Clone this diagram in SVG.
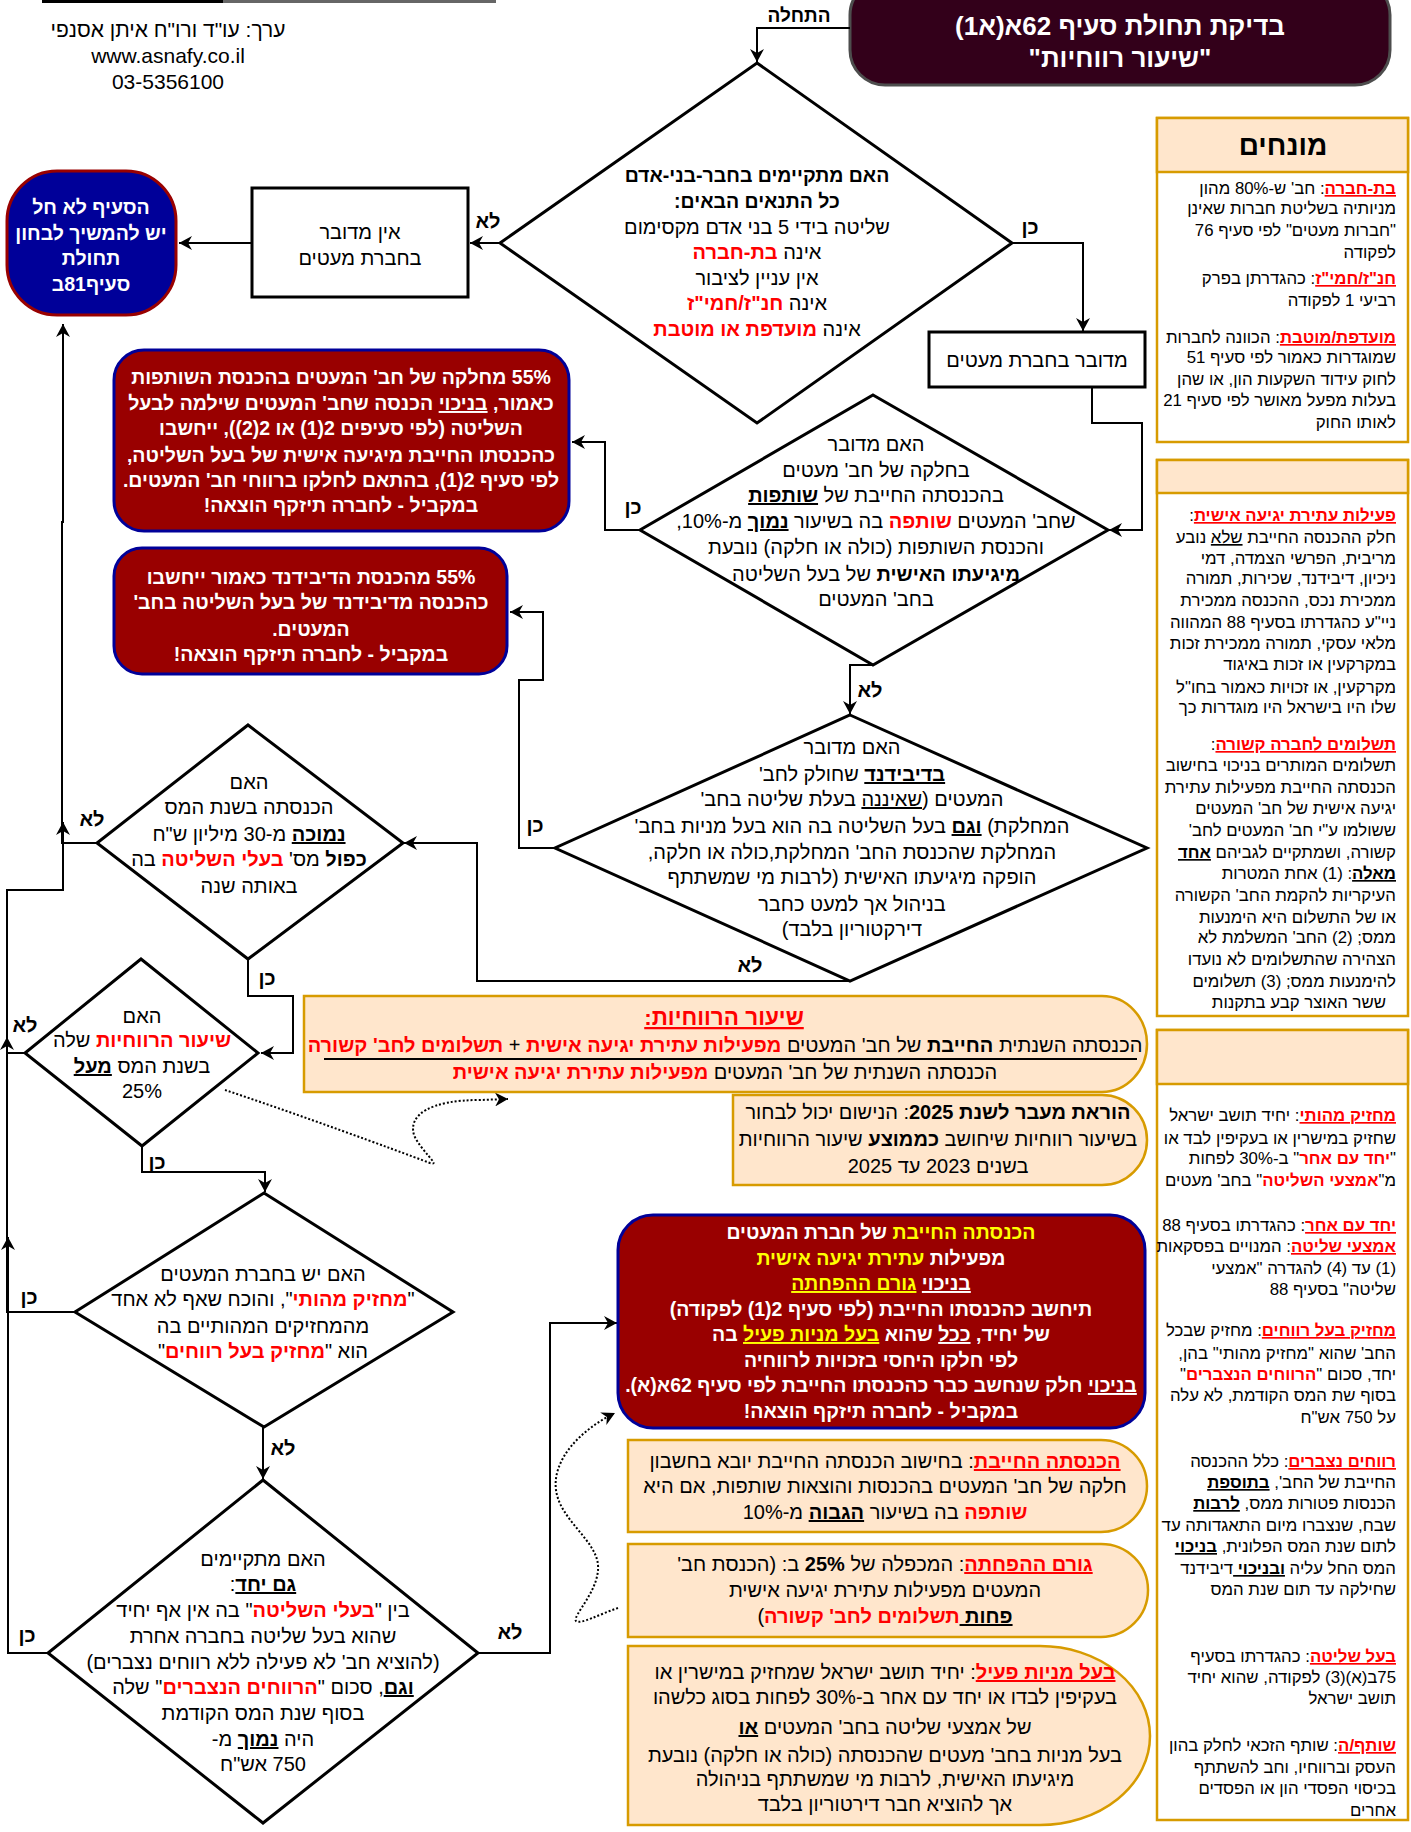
<svg xmlns="http://www.w3.org/2000/svg" width="1411" height="1832" viewBox="0 0 1411 1832">
<style>
text{font-family:"Liberation Sans",Arial,"DejaVu Sans",sans-serif;font-size:20px;direction:rtl;text-anchor:middle;fill:#000}
.b{font-weight:bold}
.r{fill:#FF0000;font-weight:bold}
.u{text-decoration:underline}
.w{fill:#FFFFFF;font-weight:bold;font-size:19.5px}
.y{fill:#FFFF00}
.s{font-size:16.8px;text-anchor:start}
.lbl{font-weight:bold}
.dia{fill:#FFFFFF;stroke:#000;stroke-width:3}
.box{fill:#FFFFFF;stroke:#000;stroke-width:3}
.red{fill:#990000;stroke:#000099;stroke-width:3}
.org{fill:#FFE6CC;stroke:#D79B00;stroke-width:2.5}
.orgw{fill:#FFFFFF;stroke:#D79B00;stroke-width:2.5}
.e{fill:none;stroke:#000;stroke-width:2;marker-end:url(#a)}
.d{fill:none;stroke:#000;stroke-width:2;stroke-dasharray:2 2;marker-end:url(#a)}
</style>
<defs>
<marker id="a" viewBox="0 0 13 14" refX="13" refY="7" markerWidth="13" markerHeight="14" markerUnits="userSpaceOnUse" orient="auto"><path d="M0,0 L13,7 L0,14 L4,7 Z" fill="#000"/></marker>
</defs>

<g id="topline">
<rect x="42" y="0" width="181" height="3" fill="#000"/>
<rect x="223" y="0" width="273" height="3" fill="#666"/>
</g>
<g id="credit">
<text x="168" y="37" style="font-size:21px">ערך: עו"ד ורו"ח איתן אסנפי</text>
<text x="168" y="63" style="font-size:21px">www.asnafy.co.il</text>
<text x="168" y="89" style="font-size:21px">03-5356100</text>
</g>

<g id="title">
<rect x="850" y="-20" width="540" height="105" rx="35" fill="#33001A" stroke="#4D4D4D" stroke-width="3"/>
<text x="1120" y="35" class="w" style="font-size:26px">בדיקת תחולת סעיף 62א(א1)</text>
<text x="1120" y="67" class="w" style="font-size:26px">"שיעור רווחיות"</text>
</g>

<g id="connectors">
<path class="e" d="M850,28 H757 V62"/>
<path class="e" d="M500,243 H470"/>
<path class="e" d="M252,243 H179"/>
<path class="e" d="M1012,243 H1083 V331"/>
<path class="e" d="M1092,387 V423 H1142 V530 H1109"/>
<path class="e" d="M640,530 H605 V442 H572"/>
<path class="e" d="M873,665 H850 V714"/>
<path class="e" d="M555,848 H519 V680 H543 V612 H510"/>
<path class="e" d="M850,981 H477 V843 H404"/>
<path class="e" d="M97,843 H62 V522 H63 V324"/>
<path class="e" d="M25,1053 H7 V890 H63 V822"/>
<path class="e" d="M75,1312 H7 V1037"/>
<path class="e" d="M48,1653 H8 V1237"/>
<path class="e" d="M248,959 V996 H293 V1053 H261"/>
<path class="e" d="M142,1146 V1172 H265 V1192"/>
<path class="e" d="M263,1427 V1479"/>
<path class="e" d="M478,1653 H550 V1323 H617"/>
<path class="d" d="M225,1090 C300,1115 390,1148 430,1163 C442,1167 420,1150 414,1135 C408,1115 430,1100 480,1100 L508,1099"/>
<path class="d" d="M618,1608 C600,1614 580,1625 576,1621 C572,1616 600,1590 598,1565 C596,1540 560,1520 556,1490 C552,1460 580,1430 615,1413"/>
<text x="799" y="22" class="lbl" style="font-size:19px">התחלה</text>
<text x="488" y="228" class="lbl">לא</text>
<text x="1030" y="234" class="lbl">כן</text>
<text x="633" y="514" class="lbl">כן</text>
<text x="870" y="697" class="lbl">לא</text>
<text x="535" y="832" class="lbl">כן</text>
<text x="750" y="972" class="lbl">לא</text>
<text x="92" y="826" class="lbl">לא</text>
<text x="267" y="985" class="lbl">כן</text>
<text x="25" y="1032" class="lbl">לא</text>
<text x="157" y="1169" class="lbl">כן</text>
<text x="29" y="1304" class="lbl">כן</text>
<text x="283" y="1455" class="lbl">לא</text>
<text x="27" y="1642" class="lbl">כן</text>
<text x="510" y="1639" class="lbl">לא</text>
</g>

<g id="end-terminal">
<rect x="7" y="171" width="169" height="144" rx="50" fill="#000099" stroke="#990000" stroke-width="3"/>
<text x="91" y="214" class="w">הסעיף לא חל</text>
<text x="91" y="240" class="w">יש להמשיך לבחון</text>
<text x="91" y="265" class="w">תחולת</text>
<text x="91" y="291" class="w">סעיף81ב</text>
</g>

<g id="not-closely-held">
<rect class="box" x="252" y="188" width="216" height="109"/>
<text x="360" y="239">אין מדובר</text>
<text x="360" y="265">בחברת מעטים</text>
</g>

<g id="d1">
<polygon class="dia" points="757,63 1012,243 757,423 500,243"/>
<text x="757" y="182" class="b" style="font-size:19.5px">האם מתקיימים בחבר-בני-אדם</text>
<text x="757" y="208" class="b" style="font-size:19.5px">כל התנאים הבאים:</text>
<text x="757" y="234">שליטה בידי 5 בני אדם מקסימום</text>
<text x="757" y="259">אינה <tspan class="r">בת-חברה</tspan></text>
<text x="757" y="285">אין עניין לציבור</text>
<text x="757" y="310">אינה <tspan class="r">חנ"ז/חמי"ז</tspan></text>
<text x="757" y="336">אינה <tspan class="r">מועדפת או מוטבת</tspan></text>
</g>

<g id="closely-held">
<rect class="box" x="929" y="332" width="216" height="55"/>
<text x="1037" y="367">מדובר בחברת מעטים</text>
</g>

<g id="d2">
<polygon class="dia" points="873,395 1108,530 873,665 640,530"/>
<text x="876" y="451">האם מדובר</text>
<text x="876" y="477">בחלקה של חב' מעטים</text>
<text x="876" y="502">בהכנסתה החייבת של <tspan class="b u">שותפות</tspan></text>
<text x="876" y="528">שחב' המעטים <tspan class="r">שותפה</tspan> בה בשיעור <tspan class="b u">נמוך</tspan> מ-10%,</text>
<text x="876" y="554">והכנסת השותפות (כולה או חלקה) נובעת</text>
<text x="876" y="581"><tspan class="b">מיגיעתו האישית</tspan> של בעל השליטה</text>
<text x="876" y="606">בחב' המעטים</text>
</g>

<g id="res-partnership">
<rect class="red" x="114" y="350" width="455" height="181" rx="30"/>
<text x="341" y="384" class="w">55% מחלקה של חב' המעטים בהכנסת השותפות</text>
<text x="341" y="410" class="w">כאמור, <tspan class="u">בניכוי</tspan> הכנסה שחב' המעטים שילמה לבעל</text>
<text x="341" y="435" class="w">השליטה (לפי סעיפים 2(1) או 2(2)), ייחשבו</text>
<text x="341" y="462" class="w">כהכנסתו החייבת מיגיעה אישית של בעל השליטה,</text>
<text x="341" y="487" class="w">לפי סעיף 2(1), בהתאם לחלקו ברווחי חב' המעטים.</text>
<text x="341" y="512" class="w">במקביל - לחברה תיזקף הוצאה!</text>
</g>

<g id="res-dividend">
<rect class="red" x="114" y="548" width="393" height="126" rx="28"/>
<text x="311" y="584" class="w">55% מהכנסת הדיבידנד כאמור ייחשבו</text>
<text x="311" y="609" class="w">כהכנסה מדיבידנד של בעל השליטה בחב'</text>
<text x="311" y="636" class="w">המעטים.</text>
<text x="311" y="661" class="w">במקביל - לחברה תיזקף הוצאה!</text>
</g>

<g id="d3">
<polygon class="dia" points="850,715 1147,848 850,981 555,848"/>
<text x="852" y="754">האם מדובר</text>
<text x="852" y="781"><tspan class="b u">בדיבידנד</tspan> שחולק לחב'</text>
<text x="852" y="806">המעטים (<tspan class="u">שאיננה</tspan> בעלת שליטה בחב'</text>
<text x="852" y="833">המחלקת) <tspan class="b u">וגם</tspan> בעל השליטה בה הוא בעל מניות בחב'</text>
<text x="852" y="859">המחלקת שהכנסת החב' המחלקת,כולה או חלקה,</text>
<text x="852" y="884">הופקה מיגיעתו האישית (לרבות מי שמשתתף</text>
<text x="852" y="911">בניהול אך למעט כחבר</text>
<text x="852" y="936">דירקטוריון בלבד)</text>
</g>

<g id="d4">
<polygon class="dia" points="248,725 403,843 248,959 97,843"/>
<text x="249" y="789">האם</text>
<text x="249" y="814">הכנסתה בשנת המס</text>
<text x="249" y="841"><tspan class="b u">נמוכה</tspan> מ-30 מיליון ש"ח</text>
<text x="249" y="866"><tspan class="b">כפול</tspan> מס' <tspan class="r">בעלי השליטה</tspan> בה</text>
<text x="249" y="893">באותה שנה</text>
</g>

<g id="d5">
<polygon class="dia" points="141,959 258,1053 142,1146 25,1053"/>
<text x="142" y="1023">האם</text>
<text x="142" y="1047"><tspan class="r">שיעור הרווחיות</tspan> שלה</text>
<text x="142" y="1073">בשנת המס <tspan class="b u">מעל</tspan></text>
<text x="142" y="1098">25%</text>
</g>

<g id="formula">
<path class="org" d="M304,996 H1102 A45,48 0 0 1 1147,1044 A45,48 0 0 1 1102,1092 H304 Z"/>
<text x="724" y="1025" class="r u" style="font-size:22.5px">שיעור הרווחיות:</text>
<text x="725" y="1052">הכנסתה השנתית <tspan class="b">החייבת</tspan> של חב' המעטים <tspan class="r">מפעילות עתירת יגיעה אישית</tspan> + <tspan class="r">תשלומים לחב' קשורה</tspan></text>
<line x1="324" y1="1059" x2="1137" y2="1059" stroke="#000" stroke-width="2"/>
<text x="725" y="1079">הכנסתה השנתית של חב' המעטים <tspan class="r">מפעילות עתירת יגיעה אישית</tspan></text>
</g>

<g id="transition">
<path class="org" d="M733,1095 H1102 A45,45 0 0 1 1147,1140 A45,45 0 0 1 1102,1185 H733 Z"/>
<text x="938" y="1119"><tspan class="b">הוראת מעבר לשנת 2025</tspan>: הנישום יכול לבחור</text>
<text x="938" y="1146">בשיעור רווחיות שיחושב <tspan class="b">כממוצע</tspan> שיעור הרווחיות</text>
<text x="938" y="1173">בשנים 2023 עד 2025</text>
</g>

<g id="d6">
<polygon class="dia" points="264,1193 453,1312 264,1427 75,1312"/>
<text x="263" y="1281">האם יש בחברת המעטים</text>
<text x="263" y="1306">"<tspan class="r">מחזיק מהותי</tspan>", והוכח שאף לא אחד</text>
<text x="263" y="1333">מהמחזיקים המהותיים בה</text>
<text x="263" y="1358">הוא "<tspan class="r">מחזיק בעל רווחים</tspan>"</text>
</g>

<g id="d7">
<polygon class="dia" points="263,1480 478,1653 263,1823 48,1653"/>
<text x="263" y="1566">האם מתקיימים</text>
<text x="263" y="1591"><tspan class="b u">גם יחד</tspan>:</text>
<text x="263" y="1617">בין "<tspan class="r">בעלי השליטה</tspan>" בה אין אף יחיד</text>
<text x="263" y="1643">שהוא בעל שליטה בחברה אחרת</text>
<text x="263" y="1669">(להוציא חב' לא פעילה ללא רווחים נצברים)</text>
<text x="263" y="1694"><tspan class="b u">וגם</tspan>, סכום "<tspan class="r">הרווחים הנצברים</tspan>" שלה</text>
<text x="263" y="1720">בסוף שנת המס הקודמת</text>
<text x="263" y="1746">היה <tspan class="b u">נמוך</tspan> מ-</text>
<text x="263" y="1771">750 אש"ח</text>
</g>

<g id="res-active">
<rect class="red" x="618" y="1215" width="527" height="213" rx="35"/>
<text x="881" y="1239" class="w"><tspan class="y">הכנסתה החייבת</tspan> של חברת המעטים</text>
<text x="881" y="1265" class="w">מפעילות <tspan class="y">עתירת יגיעה אישית</tspan></text>
<text x="881" y="1290" class="w"><tspan class="u">בניכוי</tspan> <tspan class="y u">גורם ההפחתה</tspan></text>
<text x="881" y="1316" class="w">תיחשב כהכנסתו החייבת (לפי סעיף 2(1) לפקודה)</text>
<text x="881" y="1341" class="w">של יחיד, <tspan class="u">ככל</tspan> שהוא <tspan class="y u">בעל מניות פעיל</tspan> בה</text>
<text x="881" y="1367" class="w">לפי חלקו היחסי בזכויות לרווחיה</text>
<text x="881" y="1392" class="w"><tspan class="u">בניכוי</tspan> חלק שנחשב כבר כהכנסתו החייבת לפי סעיף 62א(א).</text>
<text x="881" y="1418" class="w">במקביל - לחברה תיזקף הוצאה!</text>
</g>

<g id="def-taxable">
<path class="org" d="M628,1440 H1101 A46,46 0 0 1 1147,1486 A46,46 0 0 1 1101,1532 H628 Z"/>
<text x="885" y="1468"><tspan class="r u">הכנסתה החייבת</tspan>: בחישוב הכנסתה החייבת יובא בחשבון</text>
<text x="885" y="1493">חלקה של חב' המעטים בהכנסות והוצאות שותפות, אם היא</text>
<text x="885" y="1519"><tspan class="r">שותפה</tspan> בה בשיעור <tspan class="b u">הגבוה</tspan> מ-10%</text>
</g>

<g id="def-reduction">
<path class="org" d="M628,1544 H1101 A47,46 0 0 1 1148,1590 A47,47 0 0 1 1101,1637 H628 Z"/>
<text x="885" y="1571"><tspan class="r u">גורם ההפחתה</tspan>: המכפלה של <tspan class="b">25%</tspan> ב: (הכנסת חב'</text>
<text x="885" y="1597">המעטים מפעילות עתירת יגיעה אישית</text>
<text x="885" y="1623"><tspan class="b u">פחות </tspan><tspan class="r">תשלומים לחב' קשורה</tspan>)</text>
</g>

<g id="def-active">
<path class="org" d="M628,1646 H1040 A110,90 0 0 1 1150,1736 A110,89 0 0 1 1040,1825 H628 Z"/>
<text x="885" y="1679"><tspan class="r u">בעל מניות פעיל</tspan>: יחיד תושב ישראל שמחזיק במישרין או</text>
<text x="885" y="1704">בעקיפין לבדו או יחד עם אחר ב-30% לפחות בסוג כלשהו</text>
<text x="885" y="1734">של אמצעי שליטה בחב' המעטים <tspan class="b u">או</tspan></text>
<text x="885" y="1762">בעל מניות בחב' מעטים שהכנסתה (כולה או חלקה) נובעת</text>
<text x="885" y="1786">מיגיעתו האישית, לרבות מי שמשתתף בניהולה</text>
<text x="885" y="1811">אך להוציא חבר דירטוריון בלבד</text>
</g>

<g id="terms1">
<rect class="orgw" x="1157" y="118" width="251" height="324"/>
<rect class="org" x="1157" y="118" width="251" height="54"/>
<text x="1283" y="155" class="b" style="font-size:28px">מונחים</text>
<text x="1396" y="194" class="s"><tspan class="r u">בת-חברה</tspan>: חב'  ש-80% מהון</text>
<text x="1396" y="214" class="s">מניותיה בשליטת חברות שאינן</text>
<text x="1396" y="236" class="s">"חברות מעטים" לפי סעיף 76</text>
<text x="1396" y="258" class="s">לפקודה</text>
<text x="1396" y="284" class="s"><tspan class="r u">חנ"ז/חמי"ז</tspan>: כהגדרתן בפרק</text>
<text x="1396" y="306" class="s">רביעי 1 לפקודה</text>
<text x="1396" y="343" class="s"><tspan class="r u">מועדפת/מוטבת</tspan>: הכוונה לחברות</text>
<text x="1396" y="363" class="s">שמוגדרות כאמור לפי סעיף 51</text>
<text x="1396" y="385" class="s">לחוק עידוד השקעות הון, או שהן</text>
<text x="1396" y="406" class="s">בעלות מפעל מאושר לפי סעיף 21</text>
<text x="1396" y="428" class="s">לאותו החוק</text>
</g>

<g id="terms2">
<rect class="orgw" x="1157" y="460" width="251" height="556"/>
<rect class="org" x="1157" y="460" width="251" height="33"/>
<text x="1396" y="521" class="s"><tspan class="r u">פעילות עתירת יגיעה אישית</tspan>:</text>
<text x="1396" y="543" class="s">חלק ההכנסה החייבת <tspan class="u">שלא</tspan> נובע</text>
<text x="1396" y="564" class="s">מריבית, הפרשי הצמדה, דמי</text>
<text x="1396" y="584" class="s">ניכיון, דיבידנד, שכירות, תמורה</text>
<text x="1396" y="606" class="s">ממכירת נכס, ההכנסה ממכירת</text>
<text x="1396" y="628" class="s">ניי"ע כהגדרתו בסעיף 88 המהווה</text>
<text x="1396" y="649" class="s">מלאי עסקי, תמורה ממכירת זכות</text>
<text x="1396" y="670" class="s">במקרקעין או זכות באיגוד</text>
<text x="1396" y="693" class="s">מקרקעין, או זכויות כאמור בחו"ל</text>
<text x="1396" y="713" class="s">שלו היו בישראל היו מוגדרות כך</text>
<text x="1396" y="750" class="s"><tspan class="r u">תשלומים לחברה קשורה</tspan>:</text>
<text x="1396" y="771" class="s">תשלומים המותרים בניכוי בחישוב</text>
<text x="1396" y="793" class="s">הכנסתה החייבת מפעילות עתירת</text>
<text x="1396" y="814" class="s">יגיעה אישית של חב' המעטים</text>
<text x="1396" y="836" class="s">ששולמו ע"י חב' המעטים לחב'</text>
<text x="1396" y="858" class="s">קשורה, ושמתקיים לגביהם <tspan class="b u">אחד</tspan></text>
<text x="1396" y="879" class="s"><tspan class="b u">מאלה</tspan>: (1) אחת המטרות</text>
<text x="1396" y="901" class="s">העיקריות להקמת החב' הקשורה</text>
<text x="1396" y="923" class="s">או של התשלום היא הימנעות</text>
<text x="1396" y="943" class="s">ממס; (2) החב' המשלמת לא</text>
<text x="1396" y="965" class="s">הצהירה שהתשלומים לא נועדו</text>
<text x="1396" y="987" class="s">להימנעות ממס; (3) תשלומים</text>
<text x="1386" y="1008" class="s">ששר האוצר קבע בתקנות</text>
</g>

<g id="terms3">
<rect class="orgw" x="1157" y="1030" width="251" height="790"/>
<rect class="org" x="1157" y="1030" width="251" height="54"/>
<text x="1396" y="1121" class="s"><tspan class="r u">מחזיק מהותי</tspan>: יחיד תושב ישראל</text>
<text x="1396" y="1144" class="s">שחזיק במישרין או בעקיפין לבד או</text>
<text x="1396" y="1164" class="s">"<tspan class="r">יחד עם אחר</tspan>" ב-30% לפחות</text>
<text x="1396" y="1186" class="s">מ"<tspan class="r">אמצעי השליטה</tspan>" בחב' מעטים</text>
<text x="1396" y="1231" class="s"><tspan class="r u">יחד עם אחר</tspan>: כהגדרתו בסעיף 88</text>
<text x="1396" y="1252" class="s"><tspan class="r u">אמצעי שליטה</tspan>: המנויים בפסקאות</text>
<text x="1396" y="1274" class="s">(1) עד (4) להגדרה "אמצעי</text>
<text x="1396" y="1295" class="s">שליטה" בסעיף 88</text>
<text x="1396" y="1336" class="s"><tspan class="r u">מחזיק בעל רווחים</tspan>: מחזיק שבכל</text>
<text x="1396" y="1359" class="s">החב' שהוא "מחזיק מהותי" בהן,</text>
<text x="1396" y="1380" class="s">יחד, סכום "<tspan class="r">הרווחים הנצברים</tspan>"</text>
<text x="1396" y="1401" class="s">בסוף שת המס הקודמת, לא עלה</text>
<text x="1396" y="1423" class="s">על 750 אש"ח</text>
<text x="1396" y="1467" class="s"><tspan class="r u">רווחים נצברים</tspan>: כלל ההכנסה</text>
<text x="1396" y="1488" class="s">החייבת של החב', <tspan class="b u">בתוספת</tspan></text>
<text x="1396" y="1509" class="s">הכנסות פטורות ממס, <tspan class="b u">לרבות</tspan></text>
<text x="1396" y="1531" class="s">שבח, שנצברו מיום התאגדותה עד</text>
<text x="1396" y="1552" class="s">לתום שנת המס הפלונית, <tspan class="b u">בניכוי</tspan></text>
<text x="1396" y="1574" class="s">המס החל עליה <tspan class="b u">ובניכוי </tspan>דיבידנד</text>
<text x="1396" y="1595" class="s">שחילקה עד תום שנת המס</text>
<text x="1396" y="1662" class="s"><tspan class="r u">בעל שליטה</tspan>: כהגדרתו בסעיף</text>
<text x="1396" y="1683" class="s">75ב(א)(3) לפקודה, שהוא יחיד</text>
<text x="1396" y="1704" class="s">תושב ישראל</text>
<text x="1396" y="1751" class="s"><tspan class="r u">שותף/ה</tspan>: שותף הזכאי לחלק בהון</text>
<text x="1396" y="1773" class="s">העסק וברווחיו, וחב להשתתף</text>
<text x="1396" y="1794" class="s">בכיסוי הפסדי הון או הפסדים</text>
<text x="1396" y="1816" class="s">אחרים</text>
</g>
</svg>
